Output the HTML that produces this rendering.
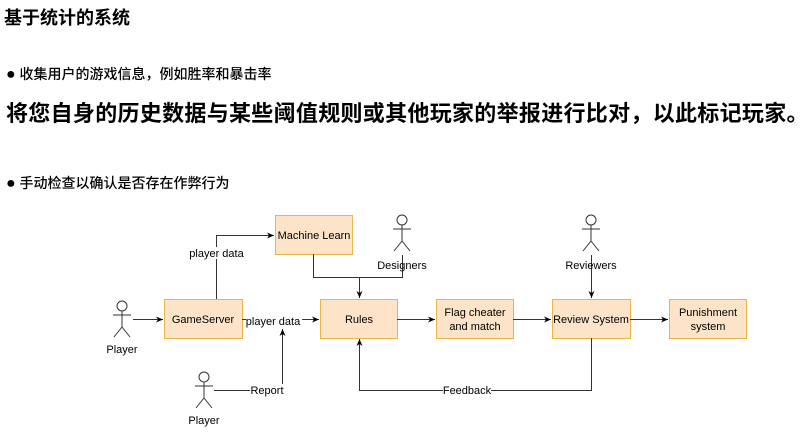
<!DOCTYPE html>
<html><head><meta charset="utf-8"><style>
body{margin:0;width:812px;height:447px;background:#fff;overflow:hidden;position:relative;font-family:"Liberation Sans","Noto Sans CJK SC",sans-serif;color:#000}
.t{position:absolute;white-space:nowrap}
</style></head><body>
<div class="t" style="left:4px;top:4px;font-size:18px;font-weight:bold">基于统计的系统</div>
<div class="t" style="left:6px;top:64px;font-size:14px;font-weight:500"><span style="font-size:16px">●</span> 收集用户的游戏信息，例如胜率和暴击率</div>
<div class="t" style="left:6px;top:96px;font-size:22px;font-weight:bold;letter-spacing:0.3px">将您自身的历史数据与某些阈值规则或其他玩家的举报进行比对，以此标记玩家。</div>
<div class="t" style="left:6px;top:173px;font-size:14px;font-weight:500"><span style="font-size:16px">●</span> 手动检查以确认是否存在作弊行为</div>
<svg width="812" height="447" style="position:absolute;left:0;top:0" font-family="Liberation Sans, sans-serif" font-size="11">
<defs><marker id="a" markerWidth="8" markerHeight="8" refX="7" refY="4" orient="auto" markerUnits="userSpaceOnUse"><path d="M0,1 L7,4 L0,7 L2,4z" fill="#000"/></marker></defs>
<g fill="#fde4c8" stroke="#e8b54a" stroke-width="1">
<rect x="164.5" y="299.5" width="78" height="39"/>
<rect x="275.5" y="215.5" width="77" height="39"/>
<rect x="320.5" y="299.5" width="77" height="39"/>
<rect x="436.5" y="299.5" width="77" height="39"/>
<rect x="552.5" y="299.5" width="78" height="39"/>
<rect x="669.5" y="299.5" width="77" height="39"/>
</g>
<g fill="none" stroke="#333" stroke-width="1">
<path d="M133 319.5H163" marker-end="url(#a)"/>
<path d="M216.5 299V235.5H274" marker-end="url(#a)"/>
<path d="M313.5 254V277.5H402.5V255"/>
<path d="M359.5 277V298" marker-end="url(#a)"/>
<path d="M242 319.5H319" marker-end="url(#a)"/>
<path d="M214 390.5H282.5V329" marker-end="url(#a)"/>
<path d="M397 319.5H435" marker-end="url(#a)"/>
<path d="M513 319.5H551" marker-end="url(#a)"/>
<path d="M630 319.5H668" marker-end="url(#a)"/>
<path d="M591.5 255V298" marker-end="url(#a)"/>
<path d="M591.5 338V390.5H359.5V339" marker-end="url(#a)"/>
</g>
<g fill="#fff" stroke="#333" stroke-width="1">
<g transform="translate(122,300)"><circle cx="0" cy="6" r="5"/><path d="M0 11V27M-9 15H9M0 27L-8 37M0 27L8 37" fill="none"/></g>
<g transform="translate(204,371)"><circle cx="0" cy="6" r="5"/><path d="M0 11V27M-9 15H9M0 27L-8 37M0 27L8 37" fill="none"/></g>
<g transform="translate(402,214)"><circle cx="0" cy="6" r="5"/><path d="M0 11V27M-9 15H9M0 27L-8 37M0 27L8 37" fill="none"/></g>
<g transform="translate(591,214)"><circle cx="0" cy="6" r="5"/><path d="M0 11V27M-9 15H9M0 27L-8 37M0 27L8 37" fill="none"/></g>
</g>
<g text-anchor="middle" fill="#000">
<text x="203" y="323">GameServer</text>
<text x="314" y="239">Machine Learn</text>
<text x="359" y="323">Rules</text>
<text x="475" y="316">Flag cheater</text>
<text x="475" y="330">and match</text>
<text x="591" y="323">Review System</text>
<text x="708" y="316">Punishment</text>
<text x="708" y="330">system</text>
<text x="122" y="353">Player</text>
<text x="204" y="424">Player</text>
<text x="402" y="269">Designers</text>
<text x="591" y="269">Reviewers</text>
</g>
<g text-anchor="middle">
<rect x="188" y="247" width="58" height="12" fill="#fff"/>
<text x="216.5" y="257">player data</text>
<rect x="246" y="314" width="56" height="12" fill="#fff"/>
<text x="273" y="325">player data</text>
<rect x="250" y="384" width="34" height="12" fill="#fff"/>
<text x="267" y="394">Report</text>
<rect x="443" y="384" width="48" height="12" fill="#fff"/>
<text x="467" y="394">Feedback</text>
</g>
</svg>
</body></html>
